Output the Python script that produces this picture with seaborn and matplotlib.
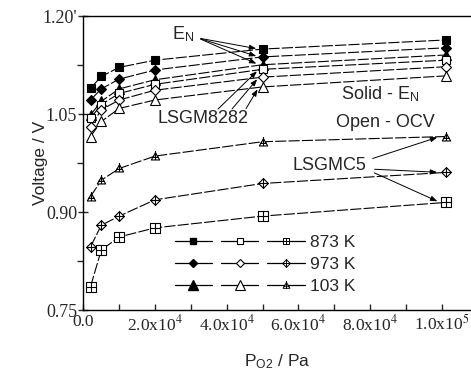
import numpy as np
import pandas as pd
import seaborn as sns
import matplotlib.pyplot as plt
from matplotlib.path import Path
from matplotlib.lines import Line2D
from matplotlib.legend_handler import HandlerTuple

# data
p_o2 = [2000, 5000, 10000, 20000, 50000, 101325]
temps = ["873 K", "973 K", "103 K"]

# LSGM8282, Nernst potential (filled symbols)
en_873 = [1.090, 1.108, 1.122, 1.133, 1.150, 1.164]
en_973 = [1.072, 1.089, 1.104, 1.118, 1.138, 1.152]
en_103 = [1.049, 1.070, 1.089, 1.103, 1.126, 1.141]

# LSGM8282, OCV (open symbols)
ocv_873 = [1.044, 1.065, 1.082, 1.096, 1.119, 1.133]
ocv_973 = [1.031, 1.057, 1.072, 1.087, 1.107, 1.123]
ocv_103 = [1.016, 1.039, 1.059, 1.072, 1.092, 1.109]

# LSGMC5, OCV (crossed symbols)
c5_873 = [0.786, 0.842, 0.862, 0.876, 0.894, 0.915]
c5_973 = [0.847, 0.880, 0.894, 0.919, 0.944, 0.961]
c5_103 = [0.924, 0.949, 0.967, 0.986, 1.008, 1.016]

x_ticks = [0, 20000, 40000, 60000, 80000, 100000]
x_labels = ["0.0", r"2.0x10$^4$", r"4.0x10$^4$", r"6.0x10$^4$", r"8.0x10$^4$", r"1.0x10$^5$"]
y_ticks = [0.75, 0.90, 1.05, 1.20]
y_labels = ["0.75", "0.90", "1.05", "1.20'"]


def crossed(kind):
    M, L, C = Path.MOVETO, Path.LINETO, Path.CLOSEPOLY
    if kind == "s":
        v = [(-1, -1), (1, -1), (1, 1), (-1, 1), (-1, -1), (-1, 0), (1, 0), (0, -1), (0, 1)]
    elif kind == "D":
        v = [(0, -1.2), (1.2, 0), (0, 1.2), (-1.2, 0), (0, -1.2), (-1.2, 0), (1.2, 0), (0, -1.2), (0, 1.2)]
    else:
        v = [(-1.2, -1), (1.2, -1), (0, 1.1), (-1.2, -1), (-1.2, -1), (-1.0, -0.25), (1.0, -0.25), (0, -1), (0, 1.6)]
    codes = [M, L, L, L, C, M, L, M, L]
    return Path(v, codes)


sns.set_style("ticks")
plt.rcParams["mathtext.fontset"] = "stix"

fig = plt.figure(figsize=(4.71, 3.74), dpi=100)
ax = fig.add_axes([0.177, 0.171, 0.823, 0.785])

ls = (0, (10, 2))
series = [
    (en_873, "s", "black", 6.0), (en_973, "D", "black", 5.5), (en_103, "^", "black", 7.5),
    (ocv_873, "s", "white", 6.0), (ocv_973, "D", "white", 5.5), (ocv_103, "^", "white", 7.5),
    (c5_873, crossed("s"), "white", 6.5), (c5_973, crossed("D"), "white", 7.0), (c5_103, crossed("^"), "white", 8.0),
]
for vals, mk, fc, ms in series:
    df = pd.DataFrame({"P": p_o2, "V": vals})
    sns.lineplot(data=df, x="P", y="V", ax=ax, color="black", lw=0.8, linestyle=ls,
                 marker=mk, markersize=ms, markerfacecolor=fc, markeredgecolor="black",
                 markeredgewidth=0.8)

ax.set_xlim(0, 108180)
ax.set_ylim(0.75, 1.20)
ax.set_xticks(x_ticks)
ax.set_xticklabels(x_labels, family="Liberation Serif", fontsize=12.5)
ax.set_xticks(np.arange(10000, 108000, 20000), minor=True)
ax.set_yticks(y_ticks)
ax.set_yticklabels(y_labels, family="Liberation Serif", fontsize=13)
ax.set_yticks([0.825, 0.975, 1.125], minor=True)
ax.tick_params(axis="x", which="both", direction="in", length=4, width=1, pad=3)
ax.tick_params(axis="y", which="major", direction="inout", length=7, width=1, pad=1)
ax.tick_params(axis="y", which="minor", direction="out", length=4, width=1)
ax.spines["right"].set_visible(False)
for s in ["left", "bottom", "top"]:
    ax.spines[s].set_linewidth(1.0)
    ax.spines[s].set_color("black")

ax.set_xlabel(r"P$_{\mathregular{O2}}$ / Pa", family="Liberation Sans", fontsize=12.5, labelpad=13)
ax.set_ylabel("Voltage / V", family="Liberation Sans", fontsize=12.5)
ax.yaxis.set_label_coords(-0.092, 0.5)

txt = dict(family="Liberation Sans", fontsize=13, ha="center", va="center")
ax.text(27800, 1.172, r"E$_{\mathregular{N}}$", **txt)
ax.text(33300, 1.043, "LSGM8282", **txt)
ax.text(82800, 1.080, r"Solid - E$_{\mathregular{N}}$", **txt)
ax.text(84200, 1.038, "Open - OCV", **txt)
ax.text(68800, 0.972, "LSGMC5", **txt)

arr = dict(arrowstyle="-|>,head_length=0.4,head_width=0.15", color="black", lw=0.7)
for v in [en_873[4], en_973[4], en_103[4]]:
    ax.annotate("", xy=(49000, v), xytext=(32000, 1.167), arrowprops=arr)
for v, x0 in zip([ocv_873[4], ocv_973[4], ocv_103[4]], [37000, 41000, 45000]):
    ax.annotate("", xy=(49000, v), xytext=(x0, 1.055), arrowprops=arr)
ax.annotate("", xy=(99500, c5_103[5]), xytext=(80000, 0.981), arrowprops=arr)
ax.annotate("", xy=(99500, c5_973[5]), xytext=(80500, 0.966), arrowprops=arr)
ax.annotate("", xy=(99500, c5_873[5]), xytext=(80500, 0.962), arrowprops=arr)

# legend: filled / open / crossed for each temperature
handles = []
for mk, ms, cms in [("s", 5.0, 5.0), ("D", 4.5, 5.5), ("^", 6.5, 6.5)]:
    h1 = Line2D([], [], color="black", lw=0.9, marker=mk, ms=ms, mfc="black", mec="black")
    h2 = Line2D([], [], color="black", lw=0.9, marker=mk, ms=ms, mfc="white", mec="black", mew=0.8)
    h3 = Line2D([], [], color="black", lw=0.9, marker=crossed(mk), ms=cms, mfc="white",
                mec="black", mew=0.7)
    handles.append((h1, h2, h3))
leg = ax.legend(handles, temps, handler_map={tuple: HandlerTuple(ndivide=None, pad=0.5)},
                loc="lower left", bbox_to_anchor=(0.195, 0.0), frameon=False,
                handlelength=7.5, handletextpad=0.3, labelspacing=0.4,
                prop={"family": "Liberation Sans", "size": 12.5})

fig.savefig("out.png", dpi=100)
